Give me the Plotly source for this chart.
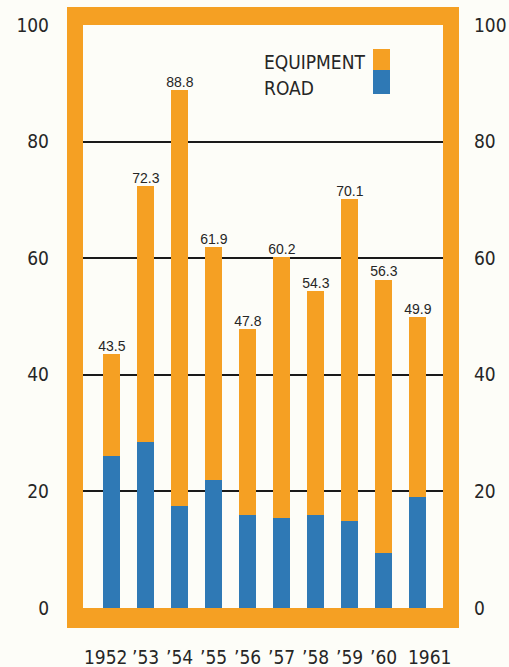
import plotly.graph_objects as go

years = ["1952", "’53", "’54", "’55", "’56", "’57", "’58", "’59", "’60", "1961"]
totals = [43.5, 72.3, 88.8, 61.9, 47.8, 60.2, 54.3, 70.1, 56.3, 49.9]
road = [26.0, 28.5, 17.5, 22.0, 16.0, 15.5, 16.0, 15.0, 9.5, 19.0]
equipment = [17.5, 43.8, 71.3, 39.9, 31.8, 44.7, 38.3, 55.1, 46.8, 30.9]
total_labels = ["43.5", "72.3", "88.8", "61.9", "47.8", "60.2", "54.3", "70.1", "56.3", "49.9"]
y_ticks = [0, 20, 40, 60, 80, 100]

ORANGE = "#F5A023"
BLUE = "#2F79B5"
BG = "#FDFDF8"
TXT = "#262626"
NARROW = "DejaVu Sans Condensed, Liberation Sans Narrow, sans-serif"

W, H = 509, 667
L, R, T, B = 83, 66, 25, 59
PW, PH = W - L - R, H - T - B

fig = go.Figure()
fig.add_trace(go.Bar(x=years, y=road, marker=dict(color=BLUE, line=dict(width=0)),
                     name="ROAD", hoverinfo="skip"))
fig.add_trace(go.Bar(x=years, y=equipment, marker=dict(color=ORANGE, line=dict(width=0)),
                     name="EQUIPMENT", hoverinfo="skip"))
fig.add_trace(go.Scatter(x=years, y=totals, mode="text", text=total_labels,
                         textposition="top center", yaxis="y2",
                         textfont=dict(family="Liberation Sans, Arial, sans-serif", size=14, color=TXT),
                         hoverinfo="skip"))

def px_x(p):
    return (p - L) / PW

def px_y(p):
    return (H - B - p) / PH

shapes = []
# orange frame around plot area (paper coords)
frame = [
    (67, 7, 83, 628),    # left
    (443, 7, 459, 628),  # right
    (67, 7, 459, 25),    # top
    (67, 608, 459, 628), # bottom
]
for x0, y0, x1, y1 in frame:
    shapes.append(dict(type="rect", xref="paper", yref="paper",
                       x0=px_x(x0), x1=px_x(x1), y0=px_y(y1), y1=px_y(y0),
                       fillcolor=ORANGE, line=dict(width=0), layer="above"))
# legend swatches
shapes.append(dict(type="rect", xref="paper", yref="paper",
                   x0=px_x(373), x1=px_x(390), y0=px_y(70), y1=px_y(49),
                   fillcolor=ORANGE, line=dict(width=0)))
shapes.append(dict(type="rect", xref="paper", yref="paper",
                   x0=px_x(373), x1=px_x(390), y0=px_y(94), y1=px_y(70),
                   fillcolor=BLUE, line=dict(width=0)))

annotations = [
    dict(text="EQUIPMENT", xref="paper", yref="paper", x=px_x(262), y=px_y(62),
         xanchor="left", yanchor="middle", showarrow=False,
         font=dict(family=NARROW, size=19, color=TXT)),
    dict(text="ROAD", xref="paper", yref="paper", x=px_x(262), y=px_y(88),
         xanchor="left", yanchor="middle", showarrow=False,
         font=dict(family=NARROW, size=19, color=TXT)),
]
# category labels under the frame (first and last nudged outward as in the original)
label_shift = {0: -6, len(years) - 1: 12}
for i, yr in enumerate(years):
    annotations.append(dict(text=yr, xref="x", yref="paper", x=i, y=0,
                            yshift=-49, xshift=label_shift.get(i, 0),
                            xanchor="center", yanchor="middle", showarrow=False,
                            font=dict(family=NARROW, size=19, color=TXT)))

fig.update_layout(
    width=W, height=H,
    margin=dict(l=L, r=R, t=T, b=B, pad=0, autoexpand=False),
    paper_bgcolor=BG, plot_bgcolor=BG,
    barmode="stack", bargap=0.5,
    showlegend=False,
    shapes=shapes, annotations=annotations,
    xaxis=dict(type="category", range=[-0.85, 9.74], showgrid=False, zeroline=False,
               showline=False, ticks="", showticklabels=False,
               automargin=False, fixedrange=True),
    yaxis=dict(range=[0, 100], tickvals=y_ticks, showgrid=True, gridcolor="#1a1a1a",
               gridwidth=2, zeroline=False, showline=False, ticks="",
               ticklabelstandoff=33, automargin=False,
               tickfont=dict(family=NARROW, size=19, color=TXT), fixedrange=True),
    yaxis2=dict(range=[0, 100], tickvals=y_ticks, overlaying="y", side="right",
                showgrid=False, zeroline=False, showline=False, ticks="",
                ticklabelstandoff=30, automargin=False,
                tickfont=dict(family=NARROW, size=19, color=TXT), fixedrange=True),
)

fig.write_html("out.html", config=dict(displayModeBar=False))
